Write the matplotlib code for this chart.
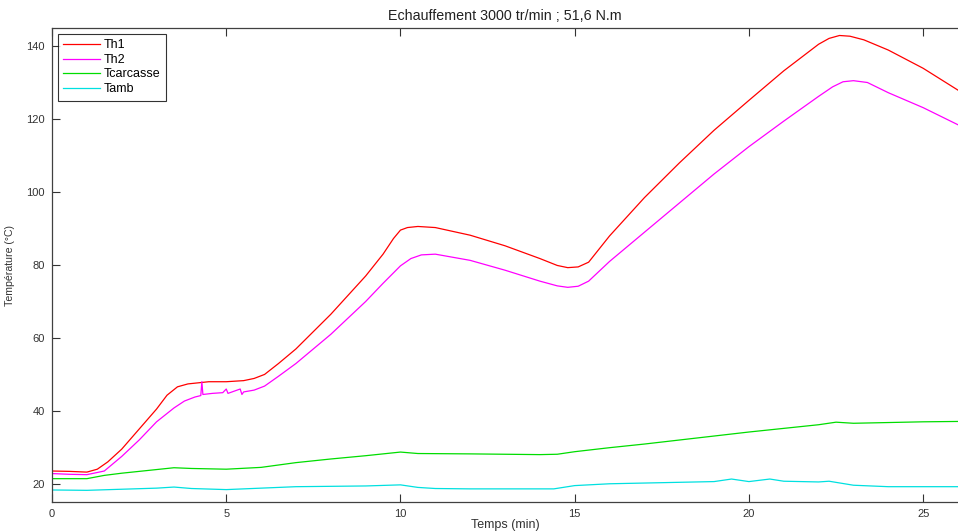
import matplotlib
matplotlib.use('Agg')
import matplotlib.pyplot as plt

# Temps (min) / température (°C)
t_th1 = [0, 0.5, 1.0, 1.3, 1.6, 2.0, 2.5, 3.0, 3.3, 3.6, 3.9, 4.5, 5.0, 5.5, 5.8, 6.1, 6.5, 7.0, 8.0,
         9.0, 9.5, 9.8, 10.0, 10.2, 10.5, 11.0, 12.0, 13.0, 14.0, 14.5, 14.8, 15.1, 15.4, 16.0, 17.0,
         18.0, 19.0, 20.0, 21.0, 22.0, 22.3, 22.6, 22.9, 23.3, 24.0, 25.0, 26.0]
th1 = [23.5, 23.4, 23.2, 24.0, 26.0, 29.5, 35.0, 40.5, 44.3, 46.6, 47.4, 48.0, 48.0, 48.3, 48.9, 50.0,
       53.0, 57.0, 66.5, 77.0, 83.0, 87.3, 89.6, 90.3, 90.6, 90.3, 88.2, 85.3, 81.8, 79.9, 79.3, 79.5,
       80.8, 88.0, 98.5, 108.0, 117.0, 125.2, 133.3, 140.6, 142.2, 143.0, 142.8, 141.8, 139.0, 134.0,
       128.0]

t_th2 = [0, 0.5, 1.0, 1.5, 2.0, 2.5, 3.0, 3.5, 3.8, 4.1, 4.27, 4.3, 4.33, 4.6, 4.9, 5.0, 5.05, 5.4, 5.45,
         5.5, 5.8, 6.1, 6.5, 7.0, 8.0, 9.0, 9.5, 10.0, 10.3, 10.6, 11.0, 12.0, 13.0, 14.0, 14.5, 14.8,
         15.1, 15.4, 16.0, 17.0, 18.0, 19.0, 20.0, 21.0, 22.0, 22.4, 22.7, 23.0, 23.4, 24.0, 25.0, 26.0]
th2 = [22.8, 22.6, 22.5, 23.5, 27.5, 32.0, 37.0, 40.8, 42.7, 43.8, 44.2, 48.0, 44.5, 44.8, 45.0, 46.0,
       44.8, 46.0, 44.5, 45.2, 45.7, 46.8, 49.5, 53.0, 61.0, 70.0, 75.0, 79.8, 81.8, 82.8, 83.0, 81.3,
       78.6, 75.6, 74.3, 73.9, 74.2, 75.6, 81.0, 89.0, 97.0, 105.0, 112.5, 119.5, 126.3, 128.9, 130.3,
       130.6, 130.1, 127.3, 123.2, 118.5]

t_carc = [0, 1.0, 1.5, 2.0, 3.0, 3.5, 4.0, 5.0, 6.0, 7.0, 8.0, 9.0, 10.0, 10.5, 12.0, 14.0, 14.5, 15.0,
          16.0, 17.0, 18.0, 19.0, 20.0, 21.0, 22.0, 22.5, 23.0, 24.0, 25.0, 26.0]
tcarc = [21.4, 21.4, 22.3, 22.9, 23.9, 24.4, 24.2, 24.0, 24.5, 25.8, 26.8, 27.7, 28.7, 28.3, 28.2, 28.0,
         28.1, 28.8, 29.9, 30.9, 32.0, 33.1, 34.2, 35.2, 36.2, 36.9, 36.6, 36.8, 37.0, 37.1]

t_amb = [0, 1.0, 2.0, 3.0, 3.5, 4.0, 5.0, 6.0, 7.0, 8.0, 9.0, 10.0, 10.5, 11.0, 12.0, 14.0, 14.4, 15.0,
         16.0, 17.0, 18.0, 19.0, 19.5, 20.0, 20.6, 21.0, 22.0, 22.3, 23.0, 24.0, 25.0, 26.0]
tamb = [18.3, 18.2, 18.5, 18.8, 19.1, 18.7, 18.4, 18.8, 19.2, 19.3, 19.4, 19.7, 19.0, 18.7, 18.6, 18.6,
        18.6, 19.5, 20.0, 20.2, 20.4, 20.6, 21.3, 20.6, 21.3, 20.7, 20.5, 20.7, 19.6, 19.2, 19.2, 19.2]

plt.rcParams['font.family'] = ['Liberation Sans', 'DejaVu Sans']

fig = plt.figure(figsize=(9.58, 5.32), dpi=100)
ax = fig.add_axes([0.0543, 0.0564, 0.9457, 0.8906])

ax.plot(t_th1, th1, color='#ff0000', linewidth=0.9, label='Th1')
ax.plot(t_th2, th2, color='#ff00ff', linewidth=0.9, label='Th2')
ax.plot(t_carc, tcarc, color='#00dd00', linewidth=0.9, label='Tcarcasse')
ax.plot(t_amb, tamb, color='#00e0e0', linewidth=0.9, label='Tamb')

ax.set_xlim(0, 26)
ax.set_ylim(15, 145)
ax.set_xticks([0, 5, 10, 15, 20, 25])
ax.set_yticks([20, 40, 60, 80, 100, 120, 140])
ax.tick_params(direction='in', length=6, width=0.8, labelsize=8, colors='#333333',
               top=True, right=False, pad=5)

for s in ['left', 'bottom', 'top']:
    ax.spines[s].set_color('#404040')
    ax.spines[s].set_linewidth(0.9)
ax.spines['right'].set_visible(False)

ax.set_title('Echauffement 3000 tr/min ; 51,6 N.m', fontsize=10.3, color='#222222', pad=6)
ax.set_xlabel('Temps (min)', fontsize=9, color='#333333', labelpad=0)
ax.set_ylabel('Température (°C)', fontsize=7.6, color='#333333', labelpad=8)

leg = ax.legend(loc='upper left', fontsize=9, handlelength=2.9, frameon=True, fancybox=False,
                borderaxespad=0.45, labelspacing=0.2, borderpad=0.45, handletextpad=0.35)
leg.get_frame().set_edgecolor('black')
leg.get_frame().set_linewidth(0.8)

fig.savefig('out.png', dpi=100)
